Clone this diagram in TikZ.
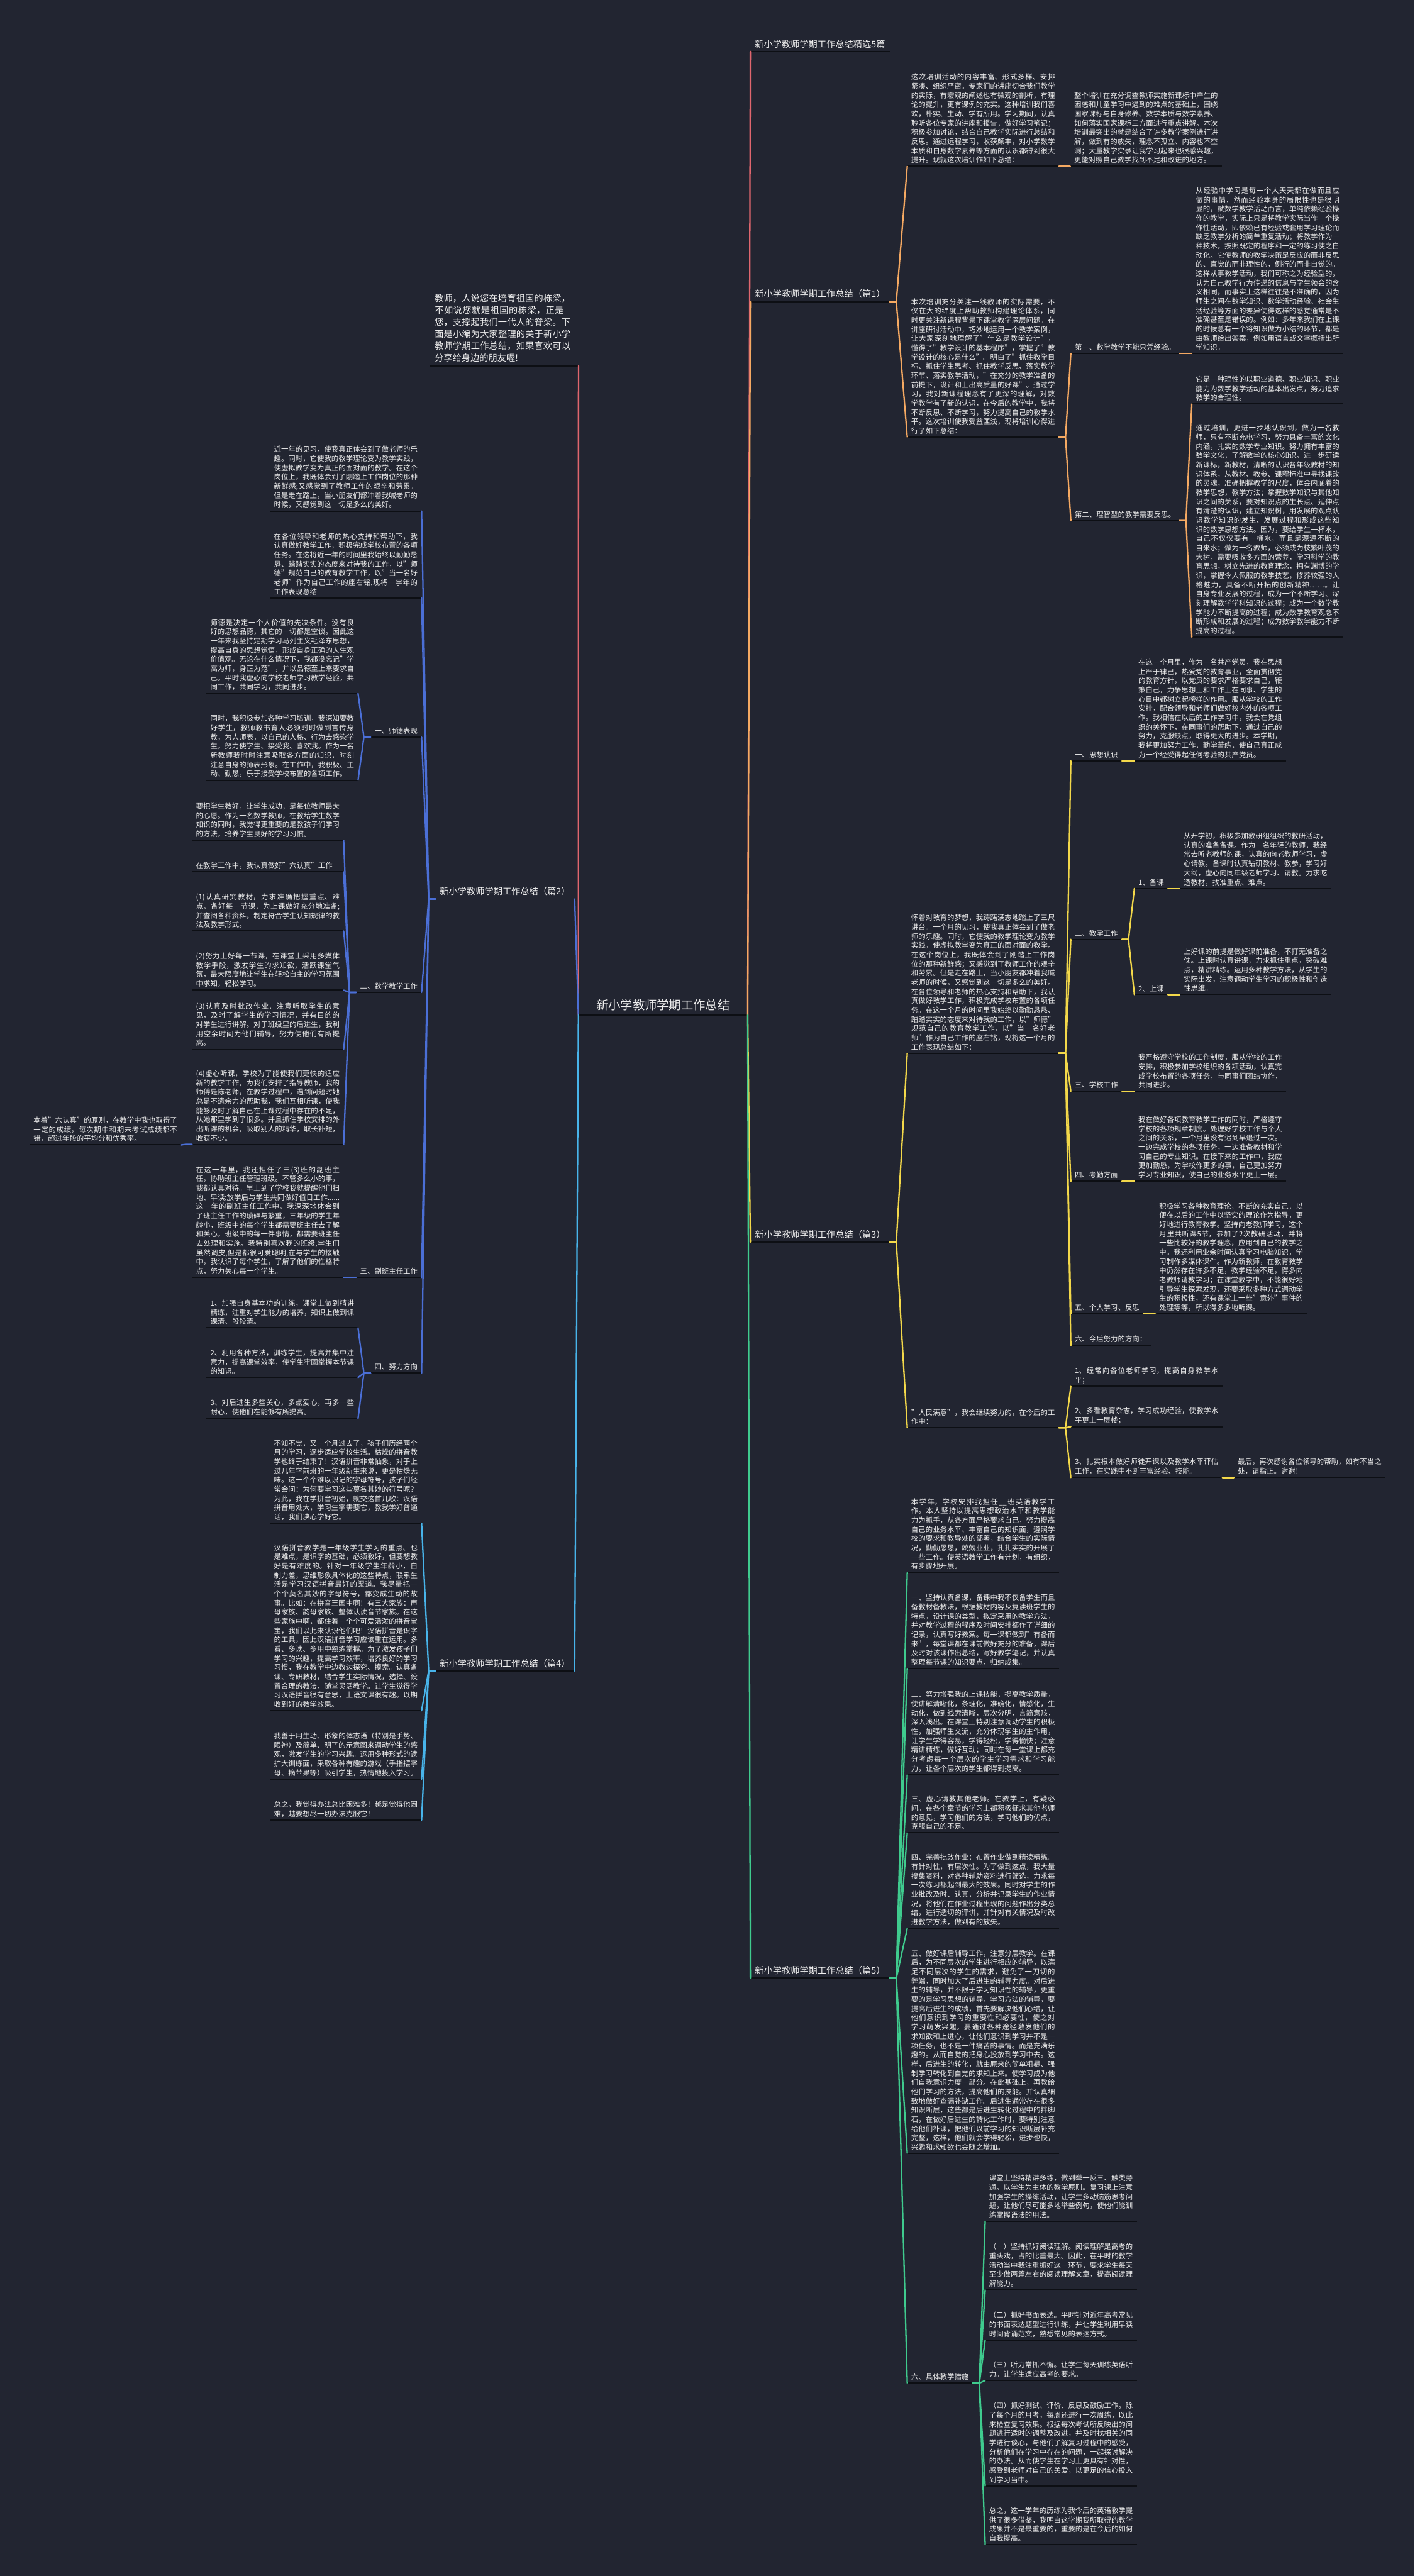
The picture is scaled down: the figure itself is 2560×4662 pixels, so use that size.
\documentclass[tikz,border=0pt]{standalone}
\usepackage{fontspec}
\setmainfont{Noto Sans CJK SC}
\XeTeXlinebreaklocale "zh"
\XeTeXlinebreakskip=0pt plus 1pt
\definecolor{bgc}{HTML}{222531}
\definecolor{txtc}{HTML}{EEEEEE}
\definecolor{ulc}{HTML}{0D0F14}
\definecolor{cred}{HTML}{E0666E}
\definecolor{corange}{HTML}{F5A962}
\definecolor{cblue}{HTML}{4B6FD6}
\definecolor{cyellow}{HTML}{F3D84A}
\definecolor{clblue}{HTML}{48B4EA}
\definecolor{cgreen}{HTML}{3FCB8E}
\tikzset{
 base/.style={text=txtc, inner xsep=7pt, inner ysep=5pt},
 body/.style={base, font=\fontsize{13}{16.7}\selectfont, text width=260pt, align=justify},
 lab/.style={base, font=\fontsize{13}{16.7}\selectfont},
 mainlab/.style={base, inner xsep=8pt, inner ysep=6pt, font=\fontsize{16.2}{21.7}\selectfont},
 rootst/.style={base, inner xsep=32pt, inner ysep=8pt, font=\fontsize{22}{26}\selectfont},
 ulin/.style={draw=ulc, line width=2.2pt},
 cl/.style={line width=2.6pt, line cap=round, line join=round},
}
\newcommand\rcon[3]{\draw[cl,#1] (#2.south east) -- ++(12,0) -- (#3.south west);}
\newcommand\lcon[3]{\draw[cl,#1] (#2.south west) -- ++(-12,0) -- (#3.south east);}
\begin{document}
\begin{tikzpicture}[x=1pt,y=-1pt]
\useasboundingbox (0,0) rectangle (2560,4662);
\fill[bgc] (0,0) rectangle (2560,4662);

% ---------- root ----------
\node[rootst,anchor=south] (root) at (1200,1837) {新小学教师学期工作总结};

% ---------- right main ----------
\node[mainlab,anchor=south west] (title) at (1358,93) {新小学教师学期工作总结精选5篇};
\node[mainlab,anchor=south west] (p1) at (1358,546) {新小学教师学期工作总结（篇1）};
\node[mainlab,anchor=south west] (p3) at (1358,2248) {新小学教师学期工作总结（篇3）};
\node[mainlab,anchor=south west] (p5) at (1358,3580) {新小学教师学期工作总结（篇5）};

% ---------- left main ----------
\node[mainlab,text width=252pt,align=left,anchor=south east] (intro) at (1047,662) {教师，人说您在培育祖国的栋梁，不如说您就是祖国的栋梁，正是您，支撑起我们一代人的脊梁。下面是小编为大家整理的关于新小学教师学期工作总结，如果喜欢可以分享给身边的朋友喔!};
\node[mainlab,anchor=south east] (p2) at (1040,1627) {新小学教师学期工作总结（篇2）};
\node[mainlab,anchor=south east] (p4) at (1040,3024) {新小学教师学期工作总结（篇4）};

% ---------- 篇1 ----------
\node[body,anchor=south west] (a1) at (1642,301) {这次培训活动的内容丰富、形式多样、安排紧凑、组织严密。专家们的讲座切合我们教学的实际，有宏观的阐述也有微观的剖析，有理论的提升，更有课例的充实。这种培训我们喜欢，朴实、生动、学有所用。学习期间，认真聆听各位专家的讲座和报告，做好学习笔记；积极参加讨论，结合自己教学实际进行总结和反思。通过远程学习，收获颇丰，对小学数学本质和自身数学素养等方面的认识都得到很大提升。现就这次培训作如下总结：};
\node[body,anchor=south west] (a2) at (1937,301) {整个培训在充分调查教师实施新课标中产生的困惑和儿童学习中遇到的难点的基础上，围绕国家课标与自身修养、数学本质与数学素养、如何落实国家课标三方面进行重点讲解。本次培训最突出的就是结合了许多教学案例进行讲解，做到有的放矢，理念不孤立、内容也不空洞；大量教学实录让我学习起来也很感兴趣，更能对照自己教学找到不足和改进的地方。};
\node[body,anchor=south west] (a3) at (1642,791) {本次培训充分关注一线教师的实际需要，不仅在大的纬度上帮助教师构建理论体系，同时更关注新课程背景下课堂教学深层问题。在讲座研讨活动中，巧妙地运用一个教学案例，让大家深刻地理解了"什么是教学设计"，懂得了"教学设计的基本程序"，掌握了"教学设计的核心是什么"。明白了"抓住教学目标、抓住学生思考、抓住教学反思、落实教学环节、落实教学活动，"在充分的教学准备的前提下，设计和上出高质量的好课"。通过学习，我对新课程理念有了更深的理解，对数学教学有了新的认识，在今后的教学中，我将不断反思、不断学习，努力提高自己的教学水平。这次培训使我受益匪浅，现将培训心得进行了如下总结：};
\node[lab,anchor=south west] (s1) at (1938,640) {第一、数学教学不能只凭经验。};
\node[lab,anchor=south west] (s2) at (1938,942) {第二、理智型的教学需要反思。};
\node[body,anchor=south west] (b1) at (2157,640) {从经验中学习是每一个人天天都在做而且应做的事情，然而经验本身的局限性也是很明显的，就数学教学活动而言，单纯依赖经验操作的教学，实际上只是将教学实际当作一个操作性活动，即依赖已有经验或套用学习理论而缺乏教学分析的简单重复活动；将教学作为一种技术，按照既定的程序和一定的练习使之自动化。它使教师的教学决策是反应的而非反思的、直觉的而非理性的，例行的而非自觉的。这样从事教学活动，我们可称之为经验型的，认为自己教学行为传递的信息与学生领会的含义相同，而事实上这样往往是不准确的，因为师生之间在数学知识、数学活动经验、社会生活经验等方面的差异使得这样的感觉通常是不准确甚至是错误的。例如：多年来我们在上课的时候总有一个将知识做为小结的环节，都是由教师给出答案，例如用语言或文字概括出所学知识。};
\node[body,anchor=south west] (b2) at (2157,731) {它是一种理性的以职业道德、职业知识、职业能力为数学教学活动的基本出发点，努力追求教学的合理性。};
\node[body,anchor=south west] (b3) at (2157,1153) {通过培训，更进一步地认识到，做为一名教师，只有不断充电学习，努力具备丰富的文化内涵，扎实的数学专业知识。努力拥有丰富的数学文化，了解数学的核心知识。进一步研读新课标，新教材，清晰的认识各年级教材的知识体系，从教材、教参、课程标准中寻找课改的灵魂，准确把握教学的尺度，体会内涵着的教学思想，教学方法；掌握数学知识与其他知识之间的关系，要对知识点的生长点、延伸点有清楚的认识，建立知识树，用发展的观点认识数学知识的发生、发展过程和形成这些知识的数学思想方法。因为，要给学生一杯水，自己不仅仅要有一桶水，而且是源源不断的自来水；做为一名教师，必须成为枝繁叶茂的大树，需要吸收多方面的营养，学习科学的教育思想，树立先进的教育理念，拥有渊博的学识，掌握令人佩服的教学技艺，修养较强的人格魅力，具备不断开拓的创新精神……。让自身专业发展的过程，成为一个不断学习、深刻理解数学学科知识的过程；成为一个数学教学能力不断提高的过程；成为数学教育观念不断形成和发展的过程；成为数学教学能力不断提高的过程。};

% ---------- 篇3 ----------
\node[body,anchor=south west] (c0) at (1642,1906) {怀着对教育的梦想，我踌躇满志地踏上了三尺讲台。一个月的见习，使我真正体会到了做老师的乐趣。同时，它使我的教学理论变为教学实践，使虚拟教学变为真正的面对面的教学。在这个岗位上，我既体会到了刚踏上工作岗位的那种新鲜感；又感觉到了教师工作的艰辛和劳累。但是走在路上，当小朋友都冲着我喊老师的时候，又感觉到这一切是多么的美好。在各位领导和老师的热心支持和帮助下，我认真做好教学工作，积极完成学校布置的各项任务。在这一个月的时间里我始终以勤勤恳恳、踏踏实实的态度来对待我的工作，以"师德"规范自己的教育教学工作，以"当一名好老师"作为自己工作的座右铭，现将这一个月的工作表现总结如下：};
\node[lab,anchor=south west] (t1) at (1938,1377) {一、思想认识};
\node[lab,anchor=south west] (t2) at (1938,1700) {二、教学工作};
\node[lab,anchor=south west] (t3) at (1938,1975) {三、学校工作};
\node[lab,anchor=south west] (t4) at (1938,2138) {四、考勤方面};
\node[lab,anchor=south west] (t5) at (1938,2378) {五、个人学习、反思};
\node[lab,anchor=south west] (t6) at (1938,2435) {六、今后努力的方向：};
\node[body,anchor=south west] (u1) at (2053,1377) {在这一个月里，作为一名共产党员，我在思想上严于律己，热爱党的教育事业，全面贯彻党的教育方针，以党员的要求严格要求自己，鞭策自己，力争思想上和工作上在同事、学生的心目中都树立起榜样的作用。服从学校的工作安排，配合领导和老师们做好校内外的各项工作。我相信在以后的工作学习中，我会在党组织的关怀下，在同事们的帮助下，通过自己的努力，克服缺点，取得更大的进步。本学期，我将更加努力工作，勤学苦练，使自己真正成为一个经受得起任何考验的共产党员。};
\node[lab,anchor=south west] (v1) at (2053,1608) {1、备课};
\node[lab,anchor=south west] (v2) at (2053,1800) {2、上课};
\node[body,anchor=south west] (w1) at (2135,1608) {从开学初，积极参加教研组组织的教研活动，认真的准备备课。作为一名年轻的教师，我经常去听老教师的课，认真的向老教师学习，虚心请教。备课时认真钻研教材、教参，学习好大纲，虚心向同年级老师学习、请教。力求吃透教材，找准重点、难点。};
\node[body,anchor=south west] (w2) at (2135,1800) {上好课的前提是做好课前准备，不打无准备之仗。上课时认真讲课，力求抓住重点，突破难点，精讲精练。运用多种教学方法，从学生的实际出发，注意调动学生学习的积极性和创造性思维。};
\node[body,anchor=south west] (u3) at (2053,1975) {我严格遵守学校的工作制度，服从学校的工作安排，积极参加学校组织的各项活动，认真完成学校布置的各项任务，与同事们团结协作，共同进步。};
\node[body,anchor=south west] (u4) at (2053,2138) {我在做好各项教育教学工作的同时，严格遵守学校的各项规章制度。处理好学校工作与个人之间的关系，一个月里没有迟到早退过一次。一边完成学校的各项任务，一边准备教材和学习自己的专业知识。在接下来的工作中，我应更加勤恳，为学校作更多的事，自己更加努力学习专业知识，使自己的业务水平更上一层。};
\node[body,anchor=south west] (u5) at (2091,2378) {积极学习各种教育理论，不断的充实自己，以便在以后的工作中以坚实的理论作为指导，更好地进行教育教学。坚持向老教师学习，这个月里共听课5节，参加了2次教研活动，并将一些比较好的教学理念，应用到自己的教学之中。我还利用业余时间认真学习电脑知识，学习制作多媒体课件。作为新教师，在教育教学中仍然存在许多不足，教学经验不足，得多向老教师请教学习；在课堂教学中，不能很好地引导学生探索发现，还要采取多种方式调动学生的积极性，还有课堂上一些"意外"事件的处理等等，所以得多多地听课。};
\node[body,anchor=south west] (m0) at (1642,2584) {"人民满意"，我会继续努力的，在今后的工作中：};
\node[body,anchor=south west] (q1) at (1938,2509) {1、经常向各位老师学习，提高自身教学水平；};
\node[body,anchor=south west] (q2) at (1938,2582) {2、多看教育杂志，学习成功经验，使教学水平更上一层楼；};
\node[body,anchor=south west] (q3) at (1938,2674) {3、扎实根本做好师徒开课以及教学水平评估工作，在实践中不断丰富经验、技能。};
\node[body,anchor=south west] (q4) at (2233,2674) {最后，再次感谢各位领导的帮助，如有不当之处，请指正。谢谢！};

% ---------- 篇5 ----------
\node[body,anchor=south west] (d0) at (1642,2846) {本学年，学校安排我担任\_\_班英语教学工作。本人坚持以提高思想政治水平和教学能力为抓手，从各方面严格要求自己，努力提高自己的业务水平、丰富自己的知识面，遵照学校的要求和教导处的部署，结合学生的实际情况，勤勤恳恳，兢兢业业，扎扎实实的开展了一些工作。使英语教学工作有计划，有组织，有步骤地开展。};
\node[body,anchor=south west] (d1) at (1642,3020) {一、坚持认真备课，备课中我不仅备学生而且备教材备教法，根据教材内容及复读班学生的特点，设计课的类型，拟定采用的教学方法，并对教学过程的程序及时间安排都作了详细的记录，认真写好教案。每一课都做到"有备而来"，每堂课都在课前做好充分的准备，课后及时对该课作出总结，写好教学笔记，并认真整理每节课的知识要点，归纳成集。};
\node[body,anchor=south west] (d2) at (1642,3212) {二、努力增强我的上课技能，提高教学质量，使讲解清晰化，条理化，准确化，情感化，生动化，做到线索清晰，层次分明，言简意赅，深入浅出。在课堂上特别注意调动学生的积极性，加强师生交流，充分体现学生的主作用，让学生学得容易，学得轻松，学得愉快；注意精讲精练，做好互动；同时在每一堂课上都充分考虑每一个层次的学生学习需求和学习能力，让各个层次的学生都得到提高。};
\node[body,anchor=south west] (d3) at (1642,3317) {三、虚心请教其他老师。在教学上，有疑必问。在各个章节的学习上都积极征求其他老师的意见，学习他们的方法，学习他们的优点，克服自己的不足。};
\node[body,anchor=south west] (d4) at (1642,3490) {四、完善批改作业：布置作业做到精读精练。有针对性，有层次性。为了做到这点，我大量搜集资料，对各种辅助资料进行筛选，力求每一次练习都起到最大的效果。同时对学生的作业批改及时、认真，分析并记录学生的作业情况，将他们在作业过程出现的问题作出分类总结，进行透切的评讲，并针对有关情况及时改进教学方法，做到有的放矢。};
\node[body,anchor=south west] (d5) at (1642,3897) {五、做好课后辅导工作，注意分层教学。在课后，为不同层次的学生进行相应的辅导，以满足不同层次的学生的需求，避免了一刀切的弊端，同时加大了后进生的辅导力度。对后进生的辅导，并不限于学习知识性的辅导，更重要的是学习思想的辅导，学习方法的辅导，要提高后进生的成绩，首先要解决他们心结，让他们意识到学习的重要性和必要性，使之对学习萌发兴趣。要通过各种途径激发他们的求知欲和上进心，让他们意识到学习并不是一项任务，也不是一件痛苦的事情。而是充满乐趣的。从而自觉的把身心投放到学习中去。这样，后进生的转化，就由原来的简单粗暴、强制学习转化到自觉的求知上来。使学习成为他们自我意识力度一部分。在此基础上，再教给他们学习的方法，提高他们的技能。并认真细致地做好查漏补缺工作。后进生通常存在很多知识断层，这些都是后进生转化过程中的拌脚石，在做好后进生的转化工作时，要特别注意给他们补课，把他们以前学习的知识断层补充完整，这样，他们就会学得轻松，进步也快，兴趣和求知欲也会随之增加。};
\node[lab,anchor=south west] (d6) at (1642,4313) {六、具体教学措施};
\node[body,anchor=south west] (e0) at (1783,4020) {课堂上坚持精讲多练，做到举一反三、触类旁通。以学生为主体的教学原则。复习课上注意加强学生的操练活动，让学生多动脑筋思考问题，让他们尽可能多地举些例句，使他们能训练掌握语法的用法。};
\node[body,anchor=south west] (e1) at (1783,4144) {（一）坚持抓好阅读理解。阅读理解是高考的重头戏，占的比重最大。因此，在平时的教学活动当中我注重抓好这一环节，要求学生每天至少做两篇左右的阅读理解文章，提高阅读理解能力。};
\node[body,anchor=south west] (e2) at (1783,4235) {（二）抓好书面表达。平时针对近年高考常见的书面表达题型进行训练，并让学生利用早读时间背诵范文，熟悉常见的表达方式。};
\node[body,anchor=south west] (e3) at (1783,4308) {（三）听力常抓不懈。让学生每天训练英语听力。让学生适应高考的要求。};
\node[body,anchor=south west] (e4) at (1783,4499) {（四）抓好测试、评价、反思及鼓励工作。除了每个月的月考，每周还进行一次周练，以此来检查复习效果。根据每次考试所反映出的问题进行适时的调整及改进，并及时找相关的同学进行谈心，与他们了解复习过程中的感受，分析他们在学习中存在的问题，一起探讨解决的办法。从而使学生在学习上更具有针对性，感受到老师对自己的关爱，以更足的信心投入到学习当中。};
\node[body,anchor=south west] (e5) at (1783,4605) {总之，这一学年的历练为我今后的英语教学提供了很多借鉴，我明白这学期我所取得的教学成果并不是最重要的，重要的是在今后的如何自我提高。};

% ---------- 篇2 ----------
\node[body,anchor=south east] (f1) at (763,925) {近一年的见习，使我真正体会到了做老师的乐趣。同时，它使我的教学理论变为教学实践，使虚拟教学变为真正的面对面的教学。在这个岗位上，我既体会到了刚踏上工作岗位的那种新鲜感;又感觉到了教师工作的艰辛和劳累。但是走在路上，当小朋友们都冲着我喊老师的时候，又感觉到这一切是多么的美好。};
\node[body,anchor=south east] (f2) at (763,1082) {在各位领导和老师的热心支持和帮助下，我认真做好教学工作，积极完成学校布置的各项任务。在这将近一年的时间里我始终以勤勤恳恳、踏踏实实的态度来对待我的工作，以"师德"规范自己的教育教学工作，以"当一名好老师"作为自己工作的座右铭,现将一学年的工作表现总结};
\node[lab,anchor=south east] (l1) at (763,1334) {一、师德表现};
\node[lab,anchor=south east] (l2) at (763,1796) {二、数学教学工作};
\node[lab,anchor=south east] (l3) at (763,2312) {三、副班主任工作};
\node[lab,anchor=south east] (l4) at (763,2485) {四、努力方向};
\node[body,anchor=south east] (g1) at (648,1255) {师德是决定一个人价值的先决条件。没有良好的思想品德，其它的一切都是空谈。因此这一年来我坚持定期学习马列主义毛泽东思想，提高自身的思想觉悟，形成自身正确的人生观价值观。无论在什么情况下，我都没忘记"学高为师，身正为范"，并以品德至上来要求自己。平时我虚心向学校老师学习教学经验，共同工作，共同学习，共同进步。};
\node[body,anchor=south east] (g2) at (648,1412) {同时，我积极参加各种学习培训，我深知要教好学生，教师教书育人必须时时做到言传身教，为人师表，以自己的人格、行为去感染学生，努力使学生、接受我、喜欢我。作为一名新教师我时时注意吸取各方面的知识，时刻注意自身的师表形象。在工作中，我积极、主动、勤恳，乐于接受学校布置的各项工作。};
\node[body,anchor=south east] (h1) at (622,1521) {要把学生教好，让学生成功，是每位教师最大的心愿。作为一名数学教师，在教给学生数学知识的同时，我觉得更重要的是教孩子们学习的方法，培养学生良好的学习习惯。};
\node[body,anchor=south east] (h2) at (622,1578) {在教学工作中，我认真做好"六认真"工作};
\node[body,anchor=south east] (h3) at (622,1685) {(1)认真研究教材，力求准确把握重点、难点，备好每一节课，为上课做好充分地准备;并查阅各种资料，制定符合学生认知规律的教法及教学形式。};
\node[body,anchor=south east] (h4) at (622,1792) {(2)努力上好每一节课，在课堂上采用多媒体教学手段，激发学生的求知欲，活跃课堂气氛，最大限度地让学生在轻松自主的学习氛围中求知，轻松学习。};
\node[body,anchor=south east] (h5) at (622,1899) {(3)认真及时批改作业，注意听取学生的意见，及时了解学生的学习情况，并有目的的对学生进行讲解。对于班级里的后进生，我利用空余时间为他们辅导，努力使他们有所提高。};
\node[body,anchor=south east] (h6) at (622,2071) {(4)虚心听课，学校为了能使我们更快的适应新的教学工作，为我们安排了指导教师，我的师傅是陈老师，在教学过程中，遇到问题时她总是不遗余力的帮助我，我们互相听课，使我能够及时了解自己在上课过程中存在的不足，从她那里学到了很多。并且抓住学校安排的外出听课的机会，吸取别人的精华，取长补短，收获不少。};
\node[body,anchor=south east] (n1) at (328,2072) {本着"六认真"的原则，在教学中我也取得了一定的成绩，每次期中和期末考试成绩都不错，超过年段的平均分和优秀率。};
\node[body,anchor=south east] (i1) at (622,2312) {在这一年里，我还担任了三(3)班的副班主任，协助班主任管理班级。不管多么小的事，我都认真对待。早上到了学校我就提醒他们扫地、早读;放学后与学生共同做好值日工作......这一年的副班主任工作中，我深深地体会到了班主任工作的琐碎与繁重，三年级的学生年龄小，班级中的每个学生都需要班主任去了解和关心，班级中的每一件事情，都需要班主任去处理和实施。我特别喜欢我的班级,学生们虽然调皮,但是都很可爱聪明,在与学生的接触中，我认识了每个学生，了解了他们的性格特点，努力关心每一个学生。};
\node[body,anchor=south east] (j1) at (648,2403) {1、加强自身基本功的训练，课堂上做到精讲精练，注重对学生能力的培养，知识上做到课课清、段段清。};
\node[body,anchor=south east] (j2) at (648,2493) {2、利用各种方法，训练学生，提高并集中注意力，提高课堂效率，使学生牢固掌握本节课的知识。};
\node[body,anchor=south east] (j3) at (648,2567) {3、对后进生多些关心，多点爱心，再多一些耐心，使他们在能够有所提高。};

% ---------- 篇4 ----------
\node[body,anchor=south east] (k1) at (763,2757) {不知不觉，又一个月过去了，孩子们历经两个月的学习，逐步适应学校生活。枯燥的拼音教学也终于结束了！汉语拼音非常抽象，对于上过几年学前班的一年级新生来说，更是枯燥无味。这一个个难以识记的字母符号，孩子们经常会问：为何要学习这些莫名其妙的符号呢？为此，我在学拼音初始，就交这首儿歌：汉语拼音用处大，学习生字需要它，教我学好普通话，我们决心学好它。};
\node[body,anchor=south east] (k2) at (763,3096) {汉语拼音教学是一年级学生学习的重点、也是难点，是识字的基础，必须教好，但要想教好是有难度的。针对一年级学生年龄小，自制力差，思维形象具体化的这些特点，联系生活是学习汉语拼音最好的渠道。我尽量把一个个莫名其妙的字母符号，都变成生动的故事。比如：在拼音王国中啊！有三大家族：声母家族、韵母家族、整体认读音节家族。在这些家族中啊，都住着一个个可爱活泼的拼音宝宝，我们以此来认识他们吧！汉语拼音是识字的工具，因此汉语拼音学习应该重在运用。多看、多读、多用中熟练掌握。为了激发孩子们学习的兴趣，提高学习效率，培养良好的学习习惯，我在教学中边教边探究、摸索。认真备课、专研教材，结合学生实际情况，选择、设置合理的教法，随堂灵活教学。让学生觉得学习汉语拼音很有意思，上语文课很有趣。以期收到好的教学效果。};
\node[body,anchor=south east] (k3) at (763,3220) {我善于用生动、形象的体态语（特别是手势、眼神）及简单、明了的示意图来调动学生的感观，激发学生的学习兴趣。运用多种形式的读扩大训练面，采取各种有趣的游戏（手指摆字母、摘苹果等）吸引学生，热情地投入学习。};
\node[body,anchor=south east] (k4) at (763,3294) {总之，我觉得办法总比困难多！越是觉得他困难，越要想尽一切办法克服它！};

% ---------- underlines ----------
\foreach \n in {root,title,p1,p3,p5,intro,p2,p4,a1,a2,a3,s1,s2,b1,b2,b3,c0,t1,t2,t3,t4,t5,t6,u1,v1,v2,w1,w2,u3,u4,u5,m0,q1,q2,q3,q4,d0,d1,d2,d3,d4,d5,d6,e0,e1,e2,e3,e4,e5,f1,f2,l1,l2,l3,l4,g1,g2,h1,h2,h3,h4,h5,h6,n1,i1,j1,j2,j3,k1,k2,k3,k4}
  {\draw[ulin] (\n.south west) -- (\n.south east);}

% ---------- root connectors ----------
\draw[cl,cred] (root.south east) -- (title.south west);
\draw[cl,corange] (root.south east) -- (p1.south west);
\draw[cl,cyellow] (root.south east) -- (p3.south west);
\draw[cl,cgreen] (root.south east) -- (p5.south west);
\draw[cl,cred] (root.south west) -- (intro.south east);
\draw[cl,cblue] (root.south west) -- (p2.south east);
\draw[cl,clblue] (root.south west) -- (p4.south east);

% ---------- right connectors ----------
\rcon{corange}{p1}{a1} \rcon{corange}{p1}{a3}
\rcon{corange}{a1}{a2}
\rcon{corange}{a3}{s1} \rcon{corange}{a3}{s2}
\rcon{corange}{s1}{b1}
\rcon{corange}{s2}{b2} \rcon{corange}{s2}{b3}

\rcon{cyellow}{p3}{c0} \rcon{cyellow}{p3}{m0}
\foreach \t in {t1,t2,t3,t4,t5,t6} {\rcon{cyellow}{c0}{\t}}
\rcon{cyellow}{t1}{u1}
\rcon{cyellow}{t2}{v1} \rcon{cyellow}{t2}{v2}
\rcon{cyellow}{v1}{w1} \rcon{cyellow}{v2}{w2}
\rcon{cyellow}{t3}{u3} \rcon{cyellow}{t4}{u4} \rcon{cyellow}{t5}{u5}
\foreach \t in {q1,q2,q3} {\rcon{cyellow}{m0}{\t}}
\rcon{cyellow}{q3}{q4}

\foreach \t in {d0,d1,d2,d3,d4,d5,d6} {\rcon{cgreen}{p5}{\t}}
\foreach \t in {e0,e1,e2,e3,e4,e5} {\rcon{cgreen}{d6}{\t}}

% ---------- left connectors ----------
\foreach \t in {f1,f2,l1,l2,l3,l4} {\lcon{cblue}{p2}{\t}}
\lcon{cblue}{l1}{g1} \lcon{cblue}{l1}{g2}
\foreach \t in {h1,h2,h3,h4,h5,h6} {\lcon{cblue}{l2}{\t}}
\lcon{cblue}{h6}{n1}
\lcon{cblue}{l3}{i1}
\foreach \t in {j1,j2,j3} {\lcon{cblue}{l4}{\t}}
\foreach \t in {k1,k2,k3,k4} {\lcon{clblue}{p4}{\t}}
\end{tikzpicture}
\end{document}
